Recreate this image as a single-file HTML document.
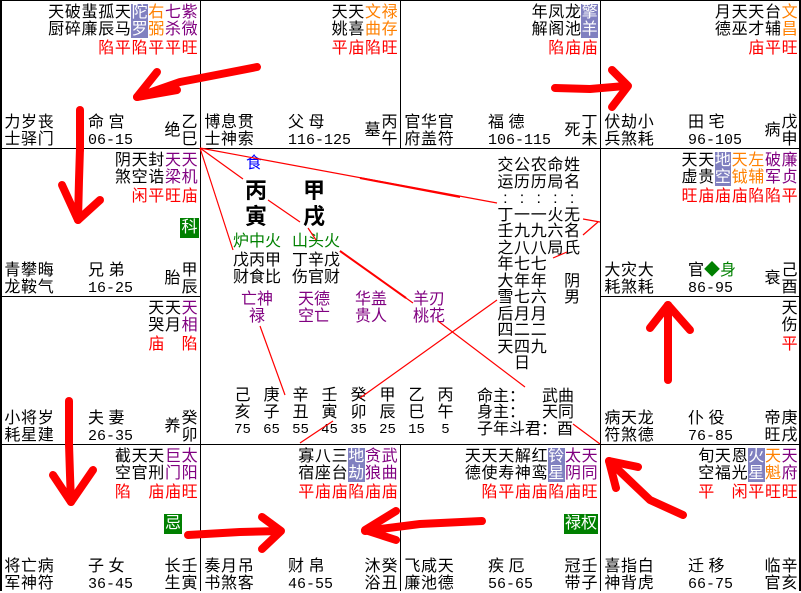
<!DOCTYPE html>
<html><head><meta charset="utf-8">
<style>
*{margin:0;padding:0;box-sizing:border-box}
body{width:801px;height:591px;background:#fff;position:relative;overflow:hidden;font-family:"Liberation Sans","WenQuanYi Zen Hei","Noto Sans CJK SC",sans-serif;font-size:16px;line-height:17px;color:#000}
.cell{position:absolute;width:200px;height:148px}
.st{position:absolute;right:2px;top:4px;display:flex}
.c{width:16.7px;text-align:center}
.c b,.c i{display:block;font-weight:normal;font-style:normal;height:17px}
.c i{color:#f00;margin-top:2px}
.h b{background:#8080c0;color:#fff}
.p{color:#800080}.o{color:#ff8000}
.bl{position:absolute;left:4px;top:114px;display:flex}
.nm{position:absolute;left:88px;top:114px}
.ag{position:absolute;left:88px;top:132px;font-family:"Liberation Mono",monospace;font-size:15px}
.br{position:absolute;right:2px;top:114px;width:17px;text-align:center}
.sg{position:absolute;right:19px;top:122px;width:17px;text-align:center}
.sg2{top:114px}
.box{position:absolute;background:#008000;color:#fff;height:20px;line-height:20px;text-align:center}
.ln{position:absolute;background:#000}
.ab{position:absolute}
</style></head><body>

<!-- grid lines -->
<div class="ln" style="left:0;top:0;width:801px;height:1px"></div>
<div class="ln" style="left:0;top:0;width:2px;height:591px"></div>
<div class="ln" style="left:799px;top:0;width:2px;height:591px"></div>
<div class="ln" style="left:200px;top:0;width:1px;height:148px"></div>
<div class="ln" style="left:400px;top:0;width:1px;height:148px"></div>
<div class="ln" style="left:600px;top:0;width:1px;height:591px"></div>
<div class="ln" style="left:200px;top:444px;width:1px;height:147px"></div>
<div class="ln" style="left:400px;top:444px;width:1px;height:147px"></div>
<div class="ln" style="left:200px;top:148px;width:1px;height:296px"></div>
<div class="ln" style="left:0;top:148px;width:801px;height:1px"></div>
<div class="ln" style="left:0;top:296px;width:200px;height:1px"></div>
<div class="ln" style="left:600px;top:296px;width:201px;height:1px"></div>
<div class="ln" style="left:0;top:444px;width:801px;height:1px"></div>

<!-- 巳 -->
<div class="cell" style="left:0;top:0">
<div class="st">
<div class="c"><b>天</b><b>厨</b><i></i></div>
<div class="c"><b>破</b><b>碎</b><i></i></div>
<div class="c"><b>蜚</b><b>廉</b><i></i></div>
<div class="c"><b>孤</b><b>辰</b><i>陷</i></div>
<div class="c"><b>天</b><b>马</b><i>平</i></div>
<div class="c h"><b>陀</b><b>罗</b><i>陷</i></div>
<div class="c o"><b>右</b><b>弼</b><i>平</i></div>
<div class="c p"><b>七</b><b>杀</b><i>平</i></div>
<div class="c p"><b>紫</b><b>微</b><i>旺</i></div>
</div>
<div class="bl"><div class="c">力<br>士</div><div class="c">岁<br>驿</div><div class="c">丧<br>门</div></div>
<div class="nm">命 宫</div><div class="ag">06-15</div>
<div class="sg">绝</div><div class="br">乙<br>巳</div>
</div>

<!-- 午 -->
<div class="cell" style="left:200px;top:0">
<div class="st">
<div class="c"><b>天</b><b>姚</b><i>平</i></div>
<div class="c"><b>天</b><b>喜</b><i>庙</i></div>
<div class="c o"><b>文</b><b>曲</b><i>陷</i></div>
<div class="c o"><b>禄</b><b>存</b><i>旺</i></div>
</div>
<div class="bl"><div class="c">博<br>士</div><div class="c">息<br>神</div><div class="c">贯<br>索</div></div>
<div class="nm">父 母</div><div class="ag">116-125</div>
<div class="sg">墓</div><div class="br">丙<br>午</div>
</div>

<!-- 未 -->
<div class="cell" style="left:400px;top:0">
<div class="st">
<div class="c"><b>年</b><b>解</b><i></i></div>
<div class="c"><b>凤</b><b>阁</b><i>陷</i></div>
<div class="c"><b>龙</b><b>池</b><i>庙</i></div>
<div class="c h"><b>擎</b><b>羊</b><i>庙</i></div>
</div>
<div class="bl"><div class="c">官<br>府</div><div class="c">华<br>盖</div><div class="c">官<br>符</div></div>
<div class="nm">福 德</div><div class="ag">106-115</div>
<div class="sg">死</div><div class="br">丁<br>未</div>
</div>

<!-- 申 -->
<div class="cell" style="left:600px;top:0">
<div class="st">
<div class="c"><b>月</b><b>德</b><i></i></div>
<div class="c"><b>天</b><b>巫</b><i></i></div>
<div class="c"><b>天</b><b>才</b><i>庙</i></div>
<div class="c"><b>台</b><b>辅</b><i>平</i></div>
<div class="c o"><b>文</b><b>昌</b><i>旺</i></div>
</div>
<div class="bl"><div class="c">伏<br>兵</div><div class="c">劫<br>煞</div><div class="c">小<br>耗</div></div>
<div class="nm">田 宅</div><div class="ag">96-105</div>
<div class="sg">病</div><div class="br">戊<br>申</div>
</div>

<!-- 辰 -->
<div class="cell" style="left:0;top:148px">
<div class="st">
<div class="c"><b>阴</b><b>煞</b><i></i></div>
<div class="c"><b>天</b><b>空</b><i>闲</i></div>
<div class="c"><b>封</b><b>诰</b><i>平</i></div>
<div class="c p"><b>天</b><b>梁</b><i>旺</i></div>
<div class="c p"><b>天</b><b>机</b><i>庙</i></div>
</div>
<div class="box" style="left:180px;top:70px;width:19px">科</div>
<div class="bl"><div class="c">青<br>龙</div><div class="c">攀<br>鞍</div><div class="c">晦<br>气</div></div>
<div class="nm">兄 弟</div><div class="ag">16-25</div>
<div class="sg">胎</div><div class="br">甲<br>辰</div>
</div>

<!-- 卯 -->
<div class="cell" style="left:0;top:296px">
<div class="st">
<div class="c"><b>天</b><b>哭</b><i>庙</i></div>
<div class="c"><b>天</b><b>月</b><i></i></div>
<div class="c p"><b>天</b><b>相</b><i>陷</i></div>
</div>
<div class="bl"><div class="c">小<br>耗</div><div class="c">将<br>星</div><div class="c">岁<br>建</div></div>
<div class="nm">夫 妻</div><div class="ag">26-35</div>
<div class="sg">养</div><div class="br">癸<br>卯</div>
</div>

<!-- 寅 -->
<div class="cell" style="left:0;top:444px">
<div class="st">
<div class="c"><b>截</b><b>空</b><i>陷</i></div>
<div class="c"><b>天</b><b>官</b><i></i></div>
<div class="c"><b>天</b><b>刑</b><i>庙</i></div>
<div class="c p"><b>巨</b><b>门</b><i>庙</i></div>
<div class="c p"><b>太</b><b>阳</b><i>旺</i></div>
</div>
<div class="box" style="left:164px;top:70px;width:18px">忌</div>
<div class="bl"><div class="c">将<br>军</div><div class="c">亡<br>神</div><div class="c">病<br>符</div></div>
<div class="nm">子 女</div><div class="ag">36-45</div>
<div class="sg sg2">长<br>生</div><div class="br">壬<br>寅</div>
</div>

<!-- 丑 -->
<div class="cell" style="left:200px;top:444px">
<div class="st">
<div class="c"><b>寡</b><b>宿</b><i>平</i></div>
<div class="c"><b>八</b><b>座</b><i>庙</i></div>
<div class="c"><b>三</b><b>台</b><i>庙</i></div>
<div class="c h"><b>地</b><b>劫</b><i>陷</i></div>
<div class="c p"><b>贪</b><b>狼</b><i>庙</i></div>
<div class="c p"><b>武</b><b>曲</b><i>庙</i></div>
</div>
<div class="bl"><div class="c">奏<br>书</div><div class="c">月<br>煞</div><div class="c">吊<br>客</div></div>
<div class="nm">财 帛</div><div class="ag">46-55</div>
<div class="sg sg2">沐<br>浴</div><div class="br">癸<br>丑</div>
</div>

<!-- 子 -->
<div class="cell" style="left:400px;top:444px">
<div class="st">
<div class="c"><b>天</b><b>德</b><i></i></div>
<div class="c"><b>天</b><b>使</b><i>陷</i></div>
<div class="c"><b>天</b><b>寿</b><i>平</i></div>
<div class="c"><b>解</b><b>神</b><i>庙</i></div>
<div class="c"><b>红</b><b>鸾</b><i>庙</i></div>
<div class="c h"><b>铃</b><b>星</b><i>陷</i></div>
<div class="c p"><b>太</b><b>阴</b><i>庙</i></div>
<div class="c p"><b>天</b><b>同</b><i>旺</i></div>
</div>
<div class="box" style="left:164px;top:70px;width:34px">禄权</div>
<div class="bl"><div class="c">飞<br>廉</div><div class="c">咸<br>池</div><div class="c">天<br>德</div></div>
<div class="nm">疾 厄</div><div class="ag">56-65</div>
<div class="sg sg2">冠<br>带</div><div class="br">壬<br>子</div>
</div>

<!-- 亥 -->
<div class="cell" style="left:600px;top:444px">
<div class="st">
<div class="c"><b>旬</b><b>空</b><i>平</i></div>
<div class="c"><b>天</b><b>福</b><i></i></div>
<div class="c"><b>恩</b><b>光</b><i>闲</i></div>
<div class="c h"><b>火</b><b>星</b><i>平</i></div>
<div class="c o"><b>天</b><b>魁</b><i>旺</i></div>
<div class="c p"><b>天</b><b>府</b><i>旺</i></div>
</div>
<div class="bl"><div class="c">喜<br>神</div><div class="c">指<br>背</div><div class="c">白<br>虎</div></div>
<div class="nm">迁 移</div><div class="ag">66-75</div>
<div class="sg sg2">临<br>官</div><div class="br">辛<br>亥</div>
</div>

<!-- 酉 -->
<div class="cell" style="left:600px;top:148px">
<div class="st">
<div class="c"><b>天</b><b>虚</b><i>旺</i></div>
<div class="c"><b>天</b><b>贵</b><i>庙</i></div>
<div class="c h"><b>地</b><b>空</b><i>庙</i></div>
<div class="c o"><b>天</b><b>钺</b><i>庙</i></div>
<div class="c o"><b>左</b><b>辅</b><i>陷</i></div>
<div class="c p"><b>破</b><b>军</b><i>陷</i></div>
<div class="c p"><b>廉</b><b>贞</b><i>平</i></div>
</div>
<div class="bl"><div class="c">大<br>耗</div><div class="c">灾<br>煞</div><div class="c">大<br>耗</div></div>
<div class="nm">官<span style="color:#008000">◆身</span></div><div class="ag">86-95</div>
<div class="sg">衰</div><div class="br">己<br>酉</div>
</div>

<!-- 戌 -->
<div class="cell" style="left:600px;top:296px">
<div class="st">
<div class="c"><b>天</b><b>伤</b><i>平</i></div>
</div>
<div class="bl"><div class="c">病<br>符</div><div class="c">天<br>煞</div><div class="c">龙<br>德</div></div>
<div class="nm">仆 役</div><div class="ag">76-85</div>
<div class="sg sg2">帝<br>旺</div><div class="br">庚<br>戌</div>
</div>

<!-- center -->
<div class="ab" style="left:246px;top:155px;color:#00f">食</div>
<div class="ab" style="left:245px;top:178px;font-size:22px;line-height:26px;font-weight:bold">丙<br>寅</div>
<div class="ab" style="left:303px;top:178px;font-size:22px;line-height:26px;font-weight:bold">甲<br>戌</div>
<div class="ab" style="left:233px;top:233px;color:#008000">炉中火</div>
<div class="ab" style="left:292px;top:233px;color:#008000">山头火</div>
<div class="ab" style="left:233px;top:252px">戊丙甲<br>财食比</div>
<div class="ab" style="left:292px;top:252px">丁辛戊<br>伤官财</div>
<div class="ab" style="left:240px;top:291px;color:#800080;text-align:center;width:34px">亡神<br>禄</div>
<div class="ab" style="left:298px;top:291px;color:#800080">天德<br>空亡</div>
<div class="ab" style="left:355px;top:291px;color:#800080">华盖<br>贵人</div>
<div class="ab" style="left:413px;top:291px;color:#800080">羊刃<br>桃花</div>

<div class="ab" style="left:497px;top:158px;display:flex;line-height:16.5px">
<div class="c">交<br>运<br>:<br>丁<br>壬<br>之<br>年<br>大<br>雪<br>后<br>四<br>天</div>
<div class="c">公<br>历<br>:<br>一<br>九<br>八<br>七<br>年<br>七<br>月<br>二<br>四<br>日</div>
<div class="c">农<br>历<br>:<br>一<br>九<br>八<br>七<br>年<br>六<br>月<br>二<br>九</div>
<div class="c">命<br>局<br>:<br>火<br>六<br>局</div>
<div class="c">姓<br>名<br>:<br>无<br>名<br>氏<br><br>阴<br>男</div>
</div>

<div class="ab" style="left:228px;top:387px;display:flex;text-align:center">
<div style="width:29px">己<br>亥</div><div style="width:29px">庚<br>子</div><div style="width:29px">辛<br>丑</div><div style="width:29px">壬<br>寅</div><div style="width:29px">癸<br>卯</div><div style="width:29px">甲<br>辰</div><div style="width:29px">乙<br>巳</div><div style="width:29px">丙<br>午</div>
</div>
<div class="ab" style="left:228px;top:422px;display:flex;text-align:center;font-family:'Liberation Mono',monospace;font-size:14px">
<div style="width:29px">75</div><div style="width:29px">65</div><div style="width:29px">55</div><div style="width:29px">45</div><div style="width:29px">35</div><div style="width:29px">25</div><div style="width:29px">15</div><div style="width:29px">5</div>
</div>
<div class="ab" style="left:477px;top:388px">命主：</div><div class="ab" style="left:542px;top:388px">武曲</div>
<div class="ab" style="left:477px;top:404px">身主：</div><div class="ab" style="left:542px;top:404px">天同</div>
<div class="ab" style="left:477px;top:421px">子年斗君：酉</div>

<svg class="ab" style="left:0;top:0" width="801" height="591">
<g stroke="#f00" stroke-width="1.2" fill="none">
<line x1="200" y1="148" x2="497" y2="203"/>
<line x1="200" y1="148" x2="243" y2="179"/>
<line x1="200" y1="148" x2="233" y2="250"/>
<line x1="268" y1="200" x2="300" y2="222"/>
<line x1="308" y1="228" x2="316" y2="240"/>
<line x1="340" y1="251" x2="413" y2="303"/>
<line x1="438" y1="321" x2="525" y2="387"/>
<line x1="573" y1="424" x2="600" y2="444"/>
<line x1="260" y1="326" x2="285" y2="395"/>
<line x1="300" y1="443" x2="333" y2="421"/>
<line x1="360" y1="398" x2="497" y2="300"/>
<line x1="583" y1="219" x2="600" y2="222"/>
<line x1="598" y1="222" x2="583" y2="235"/>
<line x1="567" y1="252" x2="553" y2="258"/>
</g>
<line x1="340" y1="251" x2="406" y2="298" stroke="#f00" stroke-width="2"/>
<line x1="360" y1="178" x2="460" y2="197" stroke="#f00" stroke-width="2"/>
<g stroke="#f00" stroke-width="8" fill="none" stroke-linecap="round" stroke-linejoin="round">
<polyline points="257,67 180,82 137,97"/>
<polyline points="157,72 137,97 177,90"/>
<line x1="80" y1="110" x2="80" y2="150"/>
<polyline points="80,148 79,180 78,220"/>
<polyline points="62,185 78,220 100,200"/>
<polyline points="555,88 590,89 625,86"/>
<polyline points="612,70 628,86 612,107"/>
<line x1="69" y1="401" x2="69" y2="444"/>
<polyline points="69,444 70,475 71,502"/>
<polyline points="53,475 71,502 93,470"/>
<polyline points="188,535 240,532 280,531"/>
<polyline points="262,517 281,531 262,549"/>
<polyline points="482,521 420,524 365,531"/>
<polyline points="396,511 365,530 396,540"/>
<polyline points="683,515 650,500 609,461"/>
<polyline points="616,488 609,461 638,467"/>
<polyline points="668,380 668,340 668,305"/>
<polyline points="650,328 668,305 690,330"/>
</g>
</svg>
</body></html>
